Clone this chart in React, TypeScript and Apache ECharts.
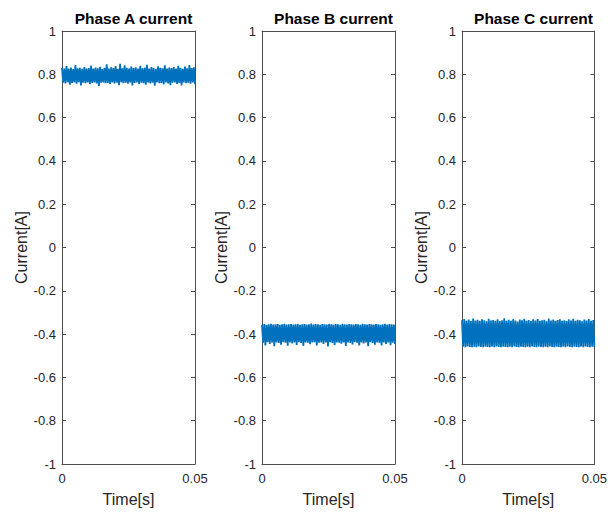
import React, { useEffect, useRef } from "react";
import * as echarts from "echarts";

const titles = ["Phase A current", "Phase B current", "Phase C current"];
const yTicks = { min: -1, max: 1, interval: 0.2 };
const xTicks = { min: 0, max: 0.05, interval: 0.05 };
const duration = 0.05;

const phaseA = [
  0.829, 0.761, 0.826, 0.758, 0.838, 0.763, 0.827, 0.752, 0.831, 0.760, 0.824, 0.762, 0.843, 0.757, 0.828, 0.764, 0.830, 0.749, 0.825, 0.761,
  0.833, 0.759, 0.827, 0.763, 0.829, 0.754, 0.840, 0.760, 0.826, 0.762, 0.831, 0.758, 0.828, 0.746, 0.835, 0.761, 0.824, 0.763, 0.830, 0.759,
  0.846, 0.760, 0.827, 0.755, 0.832, 0.762, 0.829, 0.758, 0.838, 0.761, 0.825, 0.750, 0.849, 0.763, 0.828, 0.759, 0.841, 0.761, 0.830, 0.757,
  0.827, 0.762, 0.836, 0.748, 0.829, 0.760, 0.832, 0.763, 0.826, 0.756, 0.839, 0.761, 0.828, 0.759, 0.831, 0.752, 0.844, 0.762, 0.827, 0.758,
  0.833, 0.761, 0.829, 0.747, 0.825, 0.763, 0.837, 0.759, 0.830, 0.760, 0.828, 0.753, 0.842, 0.762, 0.826, 0.758, 0.831, 0.750, 0.829, 0.761,
  0.834, 0.763, 0.827, 0.756, 0.839, 0.760, 0.830, 0.748, 0.825, 0.762, 0.836, 0.759, 0.828, 0.761, 0.843, 0.757, 0.829, 0.762, 0.832, 0.754,
];

const phaseB = [
  -0.356, -0.440, -0.354, -0.452, -0.357, -0.437, -0.355, -0.445, -0.353, -0.439, -0.356, -0.456, -0.355, -0.438, -0.354, -0.441, -0.357, -0.449, -0.355, -0.437,
  -0.352, -0.440, -0.356, -0.454, -0.355, -0.438, -0.354, -0.443, -0.356, -0.439, -0.355, -0.450, -0.353, -0.437, -0.357, -0.441, -0.355, -0.455, -0.354, -0.438,
  -0.356, -0.440, -0.355, -0.447, -0.351, -0.439, -0.356, -0.437, -0.354, -0.453, -0.355, -0.440, -0.357, -0.438, -0.354, -0.446, -0.355, -0.439, -0.356, -0.457,
  -0.353, -0.437, -0.355, -0.441, -0.356, -0.450, -0.354, -0.438, -0.355, -0.440, -0.357, -0.444, -0.352, -0.438, -0.355, -0.455, -0.356, -0.439, -0.354, -0.441,
  -0.355, -0.448, -0.356, -0.437, -0.354, -0.440, -0.355, -0.452, -0.357, -0.438, -0.353, -0.443, -0.355, -0.439, -0.356, -0.456, -0.354, -0.437, -0.355, -0.441,
  -0.356, -0.449, -0.354, -0.438, -0.355, -0.440, -0.357, -0.453, -0.355, -0.439, -0.353, -0.445, -0.356, -0.438, -0.354, -0.451, -0.355, -0.440, -0.356, -0.446,
];

const phaseC = [
  -0.336, -0.458, -0.330, -0.460, -0.338, -0.457, -0.333, -0.459, -0.340, -0.461, -0.328, -0.458, -0.337, -0.460, -0.334, -0.457, -0.339, -0.459, -0.331, -0.460,
  -0.336, -0.458, -0.341, -0.459, -0.329, -0.461, -0.337, -0.458, -0.335, -0.460, -0.338, -0.457, -0.332, -0.459, -0.340, -0.460, -0.336, -0.458, -0.327, -0.459,
  -0.338, -0.461, -0.334, -0.458, -0.339, -0.460, -0.331, -0.457, -0.337, -0.459, -0.342, -0.460, -0.333, -0.458, -0.336, -0.459, -0.329, -0.461, -0.338, -0.458,
  -0.335, -0.460, -0.340, -0.457, -0.332, -0.459, -0.337, -0.460, -0.330, -0.458, -0.339, -0.459, -0.336, -0.461, -0.334, -0.458, -0.341, -0.460, -0.328, -0.457,
  -0.337, -0.459, -0.333, -0.460, -0.339, -0.458, -0.335, -0.459, -0.331, -0.461, -0.338, -0.458, -0.336, -0.460, -0.340, -0.457, -0.332, -0.459, -0.337, -0.460,
  -0.329, -0.458, -0.338, -0.459, -0.334, -0.461, -0.336, -0.458, -0.341, -0.460, -0.333, -0.457, -0.337, -0.459, -0.330, -0.460, -0.339, -0.458, -0.335, -0.459,
];

const phases = [phaseA, phaseB, phaseC];

const FONT = "Liberation Sans";
const AXIS_COLOR = "#4d4d4d";
const TEXT_COLOR = "#262626";
const LINE_COLOR = "#0072BD";

const gridLefts = [62, 262, 462];
const gridTop = 31;
const gridWidth = 133;
const gridHeight = 433;

export default function App() {
  const ref = useRef<HTMLDivElement>(null);

  useEffect(() => {
    if (!ref.current) return;
    const chart = echarts.init(ref.current, undefined, { renderer: "svg" });

    const grid: any[] = [];
    const xAxis: any[] = [];
    const yAxis: any[] = [];
    const series: any[] = [];
    const title: any[] = [];

    const lineStyle = { color: AXIS_COLOR, width: 1 };

    phases.forEach((vals, i) => {
      grid.push({ left: gridLefts[i], top: gridTop, width: gridWidth, height: gridHeight, containLabel: false });
      title.push({
        text: titles[i],
        left: gridLefts[i] + gridWidth / 2,
        top: 5,
        textAlign: "center",
        textStyle: { fontFamily: FONT, fontSize: 15.5, fontWeight: "bold", color: "#000" },
      });
      xAxis.push({
        gridIndex: i,
        type: "value",
        position: "bottom",
        min: xTicks.min,
        max: xTicks.max,
        interval: xTicks.interval,
        axisLine: { show: true, onZero: false, lineStyle },
        axisTick: { show: true, inside: true, length: 4, lineStyle },
        axisLabel: { show: true, margin: 8, fontFamily: FONT, fontSize: 13, color: TEXT_COLOR },
        splitLine: { show: false },
        name: "Time[s]",
        nameLocation: "middle",
        nameGap: 27,
        nameTextStyle: { fontFamily: FONT, fontSize: 16, color: TEXT_COLOR },
      });
      xAxis.push({
        gridIndex: i,
        type: "value",
        position: "top",
        min: xTicks.min,
        max: xTicks.max,
        interval: xTicks.interval,
        axisLine: { show: true, onZero: false, lineStyle },
        axisTick: { show: true, inside: true, length: 4, lineStyle },
        axisLabel: { show: false },
        splitLine: { show: false },
      });
      yAxis.push({
        gridIndex: i,
        type: "value",
        position: "left",
        min: yTicks.min,
        max: yTicks.max,
        interval: yTicks.interval,
        axisLine: { show: true, onZero: false, lineStyle },
        axisTick: { show: true, inside: true, length: 4, lineStyle },
        axisLabel: { show: true, margin: 6, fontFamily: FONT, fontSize: 13, color: TEXT_COLOR },
        splitLine: { show: false },
        name: "Current[A]",
        nameLocation: "middle",
        nameGap: 33,
        nameTextStyle: { fontFamily: FONT, fontSize: 16, color: TEXT_COLOR },
      });
      yAxis.push({
        gridIndex: i,
        type: "value",
        position: "right",
        min: yTicks.min,
        max: yTicks.max,
        interval: yTicks.interval,
        axisLine: { show: true, onZero: false, lineStyle },
        axisTick: { show: true, inside: true, length: 4, lineStyle },
        axisLabel: { show: false },
        splitLine: { show: false },
      });
      const dt = duration / (vals.length - 1);
      series.push({
        type: "line",
        name: titles[i],
        xAxisIndex: i * 2,
        yAxisIndex: i * 2,
        data: vals.map((v, k) => [k * dt, v]),
        showSymbol: false,
        symbol: "none",
        lineStyle: { color: LINE_COLOR, width: 1.8, join: "miter", miterLimit: 1 },
        itemStyle: { color: LINE_COLOR },
      });
    });

    chart.setOption({
      animation: false,
      backgroundColor: "#ffffff",
      title,
      grid,
      xAxis,
      yAxis,
      series,
    });

    return () => chart.dispose();
  }, []);

  return (
    <div
      ref={ref}
      style={{ position: "absolute", left: 0, top: 0, width: 610, height: 513 }}
    />
  );
}
